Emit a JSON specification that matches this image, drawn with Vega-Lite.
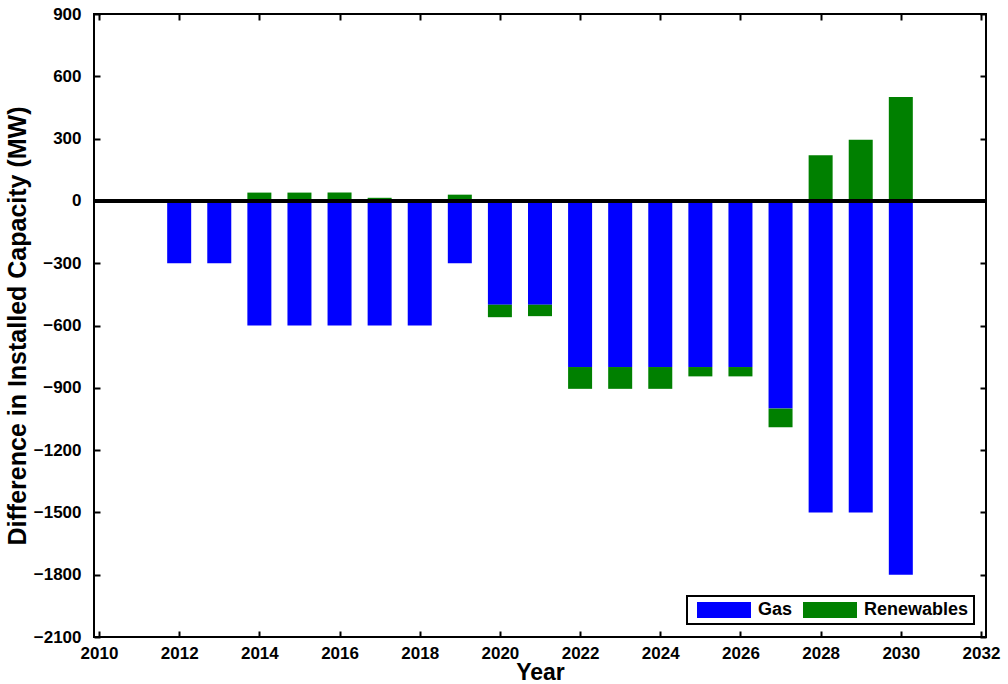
{
  "$schema": "https://vega.github.io/schema/vega-lite/v6.json",
  "width": 892,
  "height": 623,
  "autosize": {"type": "none"},
  "padding": {"left": 94, "top": 14, "right": 22, "bottom": 47},
  "background": "white",
  "config": {
    "font": "Liberation Sans",
    "view": {"stroke": "black", "strokeWidth": 2},
    "legend": {"strokeColor": "black", "strokeWidth": 2, "fillColor": "white"},
    "axis": {
      "domain": false,
      "grid": false,
      "ticks": true,
      "tickColor": "black",
      "tickWidth": 2,
      "tickSize": -6,
      "labelFont": "Liberation Sans",
      "labelFontWeight": "bold",
      "labelFontSize": 17,
      "labelColor": "black",
      "titleFont": "Liberation Sans",
      "titleFontWeight": "bold",
      "titleColor": "black"
    }
  },
  "data": {
    "values": [
      {"year": 2012, "source": "Gas", "value": -300},
      {"year": 2013, "source": "Gas", "value": -300},
      {"year": 2014, "source": "Gas", "value": -600},
      {"year": 2015, "source": "Gas", "value": -600},
      {"year": 2016, "source": "Gas", "value": -600},
      {"year": 2017, "source": "Gas", "value": -600},
      {"year": 2018, "source": "Gas", "value": -600},
      {"year": 2019, "source": "Gas", "value": -300},
      {"year": 2020, "source": "Gas", "value": -500},
      {"year": 2021, "source": "Gas", "value": -500},
      {"year": 2022, "source": "Gas", "value": -800},
      {"year": 2023, "source": "Gas", "value": -800},
      {"year": 2024, "source": "Gas", "value": -800},
      {"year": 2025, "source": "Gas", "value": -800},
      {"year": 2026, "source": "Gas", "value": -800},
      {"year": 2027, "source": "Gas", "value": -1000},
      {"year": 2028, "source": "Gas", "value": -1500},
      {"year": 2029, "source": "Gas", "value": -1500},
      {"year": 2030, "source": "Gas", "value": -1800},
      {"year": 2014, "source": "Renewables", "value": 40},
      {"year": 2015, "source": "Renewables", "value": 40},
      {"year": 2016, "source": "Renewables", "value": 40},
      {"year": 2017, "source": "Renewables", "value": 15},
      {"year": 2019, "source": "Renewables", "value": 30},
      {"year": 2020, "source": "Renewables", "value": -60},
      {"year": 2021, "source": "Renewables", "value": -55},
      {"year": 2022, "source": "Renewables", "value": -105},
      {"year": 2023, "source": "Renewables", "value": -105},
      {"year": 2024, "source": "Renewables", "value": -105},
      {"year": 2025, "source": "Renewables", "value": -45},
      {"year": 2026, "source": "Renewables", "value": -45},
      {"year": 2027, "source": "Renewables", "value": -90},
      {"year": 2028, "source": "Renewables", "value": 220},
      {"year": 2029, "source": "Renewables", "value": 295},
      {"year": 2030, "source": "Renewables", "value": 500}
    ]
  },
  "layer": [
    {
      "mark": {"type": "bar", "width": 24, "orient": "vertical"},
      "encoding": {
        "x": {
          "field": "year",
          "type": "quantitative",
          "scale": {"domain": [2010, 2032], "nice": false, "zero": false},
          "axis": {"values": [2010, 2012, 2014, 2016, 2018, 2020, 2022, 2024, 2026, 2028, 2030, 2032], "format": "d", "labelPadding": 14, "title": "Year", "titleFontSize": 23, "titlePadding": 0}
        },
        "y": {
          "field": "value",
          "type": "quantitative",
          "stack": "zero",
          "scale": {"domain": [-2100, 900], "nice": false},
          "axis": {"values": [-2100, -1800, -1500, -1200, -900, -600, -300, 0, 300, 600, 900], "format": "d", "labelPadding": 19, "title": "Difference in Installed Capacity (MW)", "titleFontSize": 25, "titlePadding": 3}
        },
        "order": {"field": "source", "sort": "ascending"},
        "color": {
          "field": "source",
          "type": "nominal",
          "scale": {"domain": ["Gas", "Renewables"], "range": ["#0000ff", "#008000"]},
          "legend": {
            "title": null,
            "orient": "none",
            "legendX": 593,
            "legendY": 582,
            "direction": "horizontal",
            "symbolType": "M-3,-0.89H3V0.89H-3Z",
            "symbolSize": 324,
            "symbolOffset": 23,
            "symbolStrokeWidth": 0,
            "labelFont": "Liberation Sans",
            "labelFontWeight": "bold",
            "labelFontSize": 18,
            "labelColor": "black",
            "columnPadding": 5,
            "labelOffset": 25,
            "padding": 5
          }
        }
      }
    },
    {
      "mark": {"type": "point", "opacity": 0},
      "encoding": {
        "x": {"field": "year", "type": "quantitative", "axis": {"orient": "top", "labels": false, "title": null, "values": [2010, 2012, 2014, 2016, 2018, 2020, 2022, 2024, 2026, 2028, 2030, 2032]}},
        "y": {"field": "value", "type": "quantitative", "axis": {"orient": "right", "labels": false, "title": null, "values": [-2100, -1800, -1500, -1200, -900, -600, -300, 0, 300, 600, 900]}}
      }
    },
    {
      "mark": {"type": "rule", "color": "black", "strokeWidth": 2.5},
      "encoding": {"y": {"datum": 0, "axis": null}}
    }
  ],
  "resolve": {"axis": {"x": "independent", "y": "independent"}}
}
